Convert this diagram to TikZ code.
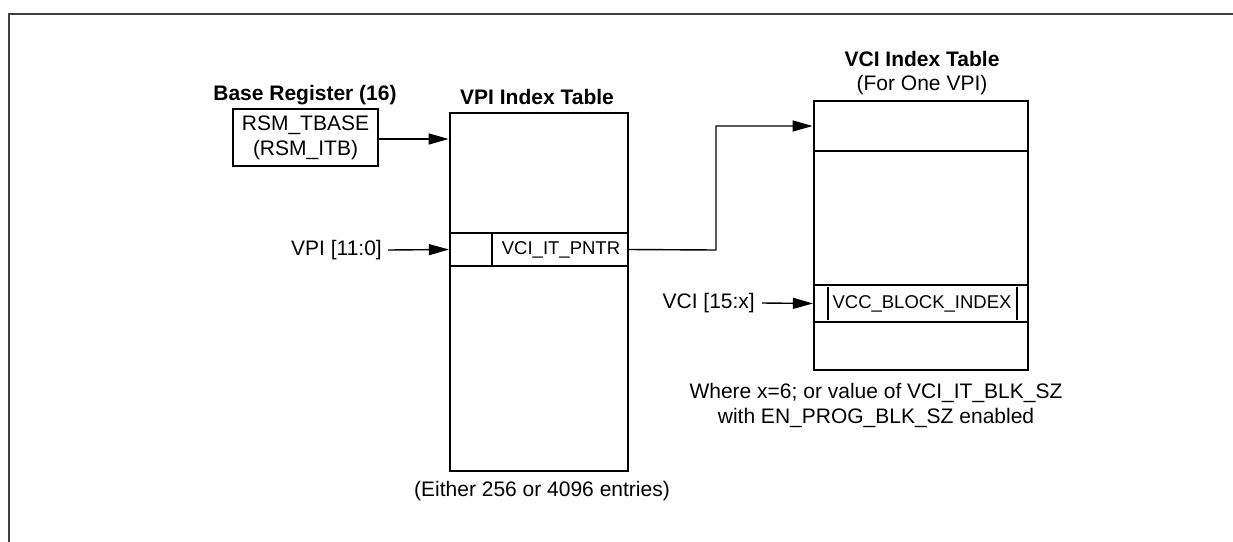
\documentclass[tikz,border=0pt]{standalone}
\usepackage{fontspec}
\setmainfont{Liberation Sans}
\usetikzlibrary{arrows.meta}
\begin{document}
\begin{tikzpicture}[x=1pt,y=-1pt,
  big/.style={font=\fontsize{21}{25}\selectfont},
  bigbold/.style={font=\fontsize{21}{25}\selectfont\bfseries},
  small/.style={font=\fontsize{18.5}{21}\selectfont},
  tbl/.style={draw,line width=2.7pt,inner sep=0pt},
  rowline/.style={line width=2.2pt},
  conn/.style={line width=1.4pt,-{Triangle[length=20pt,width=11pt]}}]
\useasboundingbox (0,0) rectangle (1233,541);
% frame
\draw[line width=2pt,black!75] (9,560) -- (9,14) -- (1250,14);
% Base register
\node[tbl,line width=2.3pt,minimum width=145pt,minimum height=57pt,big,align=center] (basebox) at (305.5,137.5) {RSM\_TBASE\\(RSM\_ITB)};
\node[bigbold,inner sep=0pt] (basetitle) at (305,95) {Base Register (16)};
% VPI table
\node[tbl,minimum width=178pt,minimum height=358pt] (vpi) at (539,292) {};
\node[bigbold,inner sep=0pt] (vpititle) at (537,97) {VPI Index Table};
\node[draw,rowline,minimum width=178pt,minimum height=33pt,inner sep=0pt] (vpirow) at (539,249.5) {};
\draw[rowline] (492,233) -- (492,266);
\node[small,inner sep=0pt] (vpitext) at (561,250) {VCI\_IT\_PNTR};
\node[big,anchor=east,inner sep=0pt] (vpilabel) at (382,250) {VPI [11:0]};
\node[big,inner sep=0pt] (vpinote) at (542,491) {(Either 256 or 4096 entries)};
% VCI table
\node[tbl,minimum width=214pt,minimum height=269pt] (vci) at (921,235.5) {};
\draw[rowline] (814,151) -- (1028,151);
\node[bigbold,inner sep=0pt] (vcititle) at (922,59) {VCI Index Table};
\node[big,inner sep=0pt] (vcisub) at (922,85) {(For One VPI)};
\node[draw,rowline,minimum width=214pt,minimum height=37pt,inner sep=0pt] (vccrow) at (921,303.5) {};
\draw[rowline] (828,287) -- (828,320);
\draw[rowline] (1017,287) -- (1017,320);
\node[small,inner sep=0pt] (vcctext) at (922,304) {VCC\_BLOCK\_INDEX};
\node[big,anchor=east,inner sep=0pt] (vcilabel) at (755,303) {VCI [15:x]};
\node[big,align=center,inner sep=0pt] (vcinote) at (876,405) {Where x=6; or value of VCI\_IT\_BLK\_SZ\\with EN\_PROG\_BLK\_SZ enabled};
% connectors
\coordinate (bendA) at (716,250);
\coordinate (bendB) at (716,126);
\draw[conn] (basebox.east |- 0,139) -- (vpi.west |- 0,139);
\draw[conn] ([xshift=6pt]vpilabel.east) -- (vpirow.west);
\draw[conn] (vpirow.east) -- (bendA) -- (bendB) -- (vci.west |- bendB);
\draw[conn] ([xshift=7pt]vcilabel.east) -- (vccrow.west);
\end{tikzpicture}
\end{document}
